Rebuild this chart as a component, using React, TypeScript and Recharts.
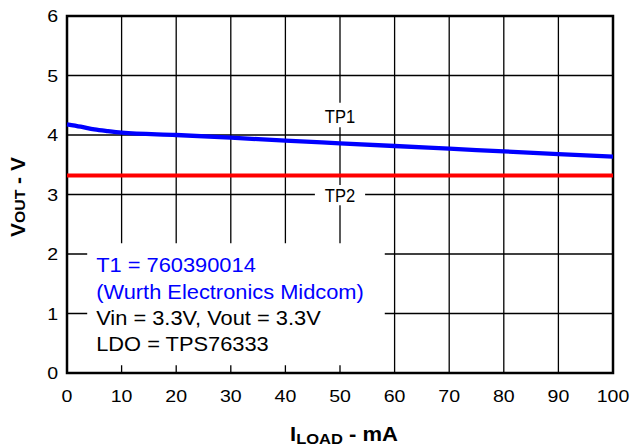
import React from 'react';
import { LineChart, Line, XAxis, YAxis, CartesianGrid, ReferenceArea, Label } from 'recharts';

const FONT = '"Liberation Sans", Arial, Helvetica, sans-serif';

// load current (mA) and output voltage
const loadCurrent = [0, 2.5, 5, 7.5, 10, 20, 30, 40, 50, 60, 70, 80, 90, 100];
const voutTP1 = [4.18, 4.14, 4.095, 4.065, 4.04, 4.0, 3.955, 3.905, 3.86, 3.815, 3.77, 3.725, 3.68, 3.635];
const tp2Current = [0, 100];
const voutTP2 = [3.32, 3.32];

const xTicks = [0, 10, 20, 30, 40, 50, 60, 70, 80, 90, 100];
const yTicks = [0, 1, 2, 3, 4, 5, 6];

const noteLines = [
  { text: 'T1 = 760390014', color: '#0000ff' },
  { text: '(Wurth Electronics Midcom)', color: '#0000ff' },
  { text: 'Vin = 3.3V, Vout = 3.3V', color: '#000000' },
  { text: 'LDO = TPS76333', color: '#000000' }
];

const tp1Data = loadCurrent.map((x, i) => ({ x, v: voutTP1[i] }));
const tp2Data = tp2Current.map((x, i) => ({ x, v: voutTP2[i] }));

const PLOT_BOTTOM = 373;
const PLOT_LEFT = 67;

const renderXTick = ({ x, payload }: any) => (
  <text
    transform={`translate(${x},${PLOT_BOTTOM + 29}) scale(1.15,1)`}
    textAnchor="middle"
    fontSize={17}
    fontFamily={FONT}
    fill="#000"
  >
    {payload.value}
  </text>
);

const renderYTick = ({ y, payload }: any) => (
  <text
    transform={`translate(${PLOT_LEFT - 9},${y + 6}) scale(1.15,1)`}
    textAnchor="end"
    fontSize={17}
    fontFamily={FONT}
    fill="#000"
  >
    {payload.value}
  </text>
);

const noteContent = ({ viewBox }: any) => (
  <g>
    {noteLines.map((l, i) => (
      <text
        key={i}
        transform={`translate(${viewBox.x + 9},${viewBox.y + 29 + i * 26.3}) scale(1.12,1)`}
        fontSize={19.5}
        fontFamily={FONT}
        fill={l.color}
      >
        {l.text}
      </text>
    ))}
  </g>
);

const tagContent = (name: string, dy: number) => ({ viewBox }: any) => (
  <text
    transform={`translate(${viewBox.x + viewBox.width / 2},${viewBox.y + dy}) scale(0.92,1)`}
    textAnchor="middle"
    fontSize={18}
    fontFamily={FONT}
    fill="#000"
  >
    {name}
  </text>
);

const yTitle = () => (
  <text
    transform={`translate(25,197) rotate(-90) scale(1.05,1)`}
    textAnchor="middle"
    fontFamily={FONT}
    fontWeight="bold"
    fontSize={20}
    fill="#000"
  >
    V<tspan fontSize={15}>OUT</tspan> - V
  </text>
);

const xTitle = () => (
  <text
    transform={`translate(344,441) scale(1.1,1)`}
    textAnchor="middle"
    fontFamily={FONT}
    fontWeight="bold"
    fontSize={20}
    fill="#000"
  >
    I<tspan fontSize={15} dy={3}>LOAD</tspan>
    <tspan dy={-3}> - mA</tspan>
  </text>
);

export default function App() {
  return (
    <div style={{ position: 'absolute', left: 0, top: 0, background: '#fff' }}>
      <LineChart width={631} height={446} margin={{ top: 16, right: 18, bottom: 43, left: 37 }}>
        <CartesianGrid stroke="#000" strokeWidth={1.3} />
        <XAxis
          type="number"
          dataKey="x"
          domain={[0, 100]}
          ticks={xTicks}
          height={30}
          axisLine={false}
          tickLine={false}
          tick={renderXTick}
          interval={0}
          label={xTitle}
        />
        <YAxis
          type="number"
          domain={[0, 6]}
          ticks={yTicks}
          width={30}
          axisLine={false}
          tickLine={false}
          tick={renderYTick}
          interval={0}
          label={yTitle}
        />
        <ReferenceArea x1={3.7} x2={58.2} y1={0.13} y2={2.18} fill="#fff" fillOpacity={1} stroke="none">
          <Label content={noteContent} />
        </ReferenceArea>
        <ReferenceArea x1={45.4} x2={54.6} y1={4.13} y2={4.54} fill="#fff" fillOpacity={1} stroke="none">
          <Label content={tagContent('TP1', 20)} />
        </ReferenceArea>
        <ReferenceArea x1={45.4} x2={54.6} y1={2.82} y2={3.16} fill="#fff" fillOpacity={1} stroke="none">
          <Label content={tagContent('TP2', 17)} />
        </ReferenceArea>
        <Line
          data={tp2Data}
          dataKey="v"
          stroke="#ff0000"
          strokeWidth={4}
          dot={false}
          isAnimationActive={false}
        />
        <Line
          data={tp1Data}
          dataKey="v"
          type="monotone"
          stroke="#0000ff"
          strokeWidth={4.3}
          dot={false}
          isAnimationActive={false}
        />
        <ReferenceArea x1={0} x2={100} y1={0} y2={6} fill="none" stroke="#000" strokeWidth={2.5} />
      </LineChart>
    </div>
  );
}
